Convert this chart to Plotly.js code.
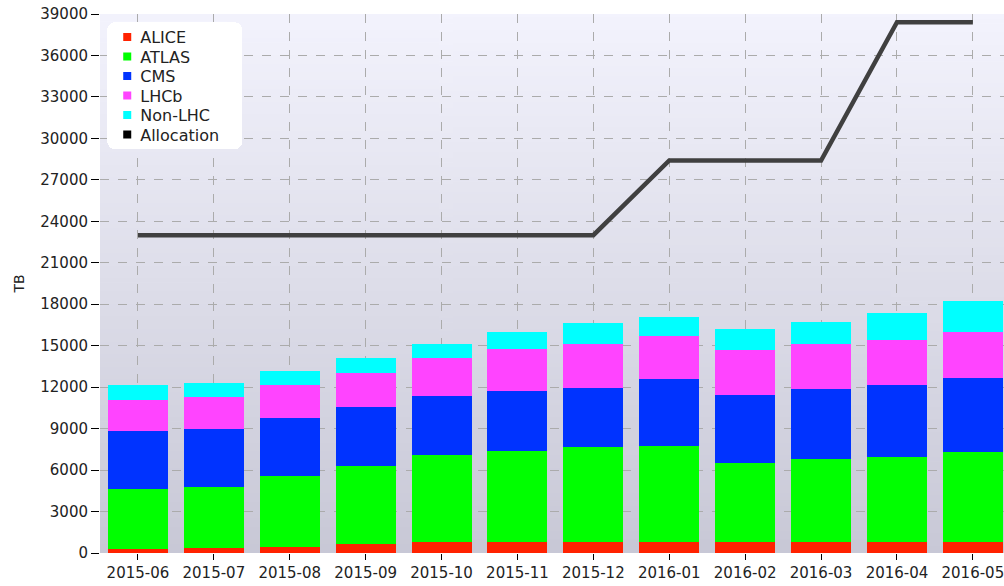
<!DOCTYPE html>
<html>
<head>
<meta charset="utf-8">
<script src="https://cdn.plot.ly/plotly-3.0.1.min.js"></script>
<style>html,body{margin:0;padding:0;background:#fff;}#chart{width:1004px;height:586px;}</style>
</head>
<body>
<div id="chart"></div>
<script>
const months = ["2015-06","2015-07","2015-08","2015-09","2015-10","2015-11","2015-12","2016-01","2016-02","2016-03","2016-04","2016-05"];
const alice  = [290, 340, 435, 650, 775, 775, 775, 775, 775, 775, 775, 775];
const atlas  = [4306, 4450, 5105, 5660, 6315, 6605, 6870, 6990, 5755, 6000, 6145, 6530];
const cms    = [4234, 4185, 4257, 4280, 4280, 4330, 4330, 4790, 4935, 5080, 5225, 5322];
const lhcb   = [2274, 2346, 2346, 2470, 2760, 3070, 3120, 3120, 3217, 3240, 3266, 3338];
const nonlhc = [1064, 992, 1017, 1040, 1015, 1185, 1550, 1400, 1500, 1645, 1984, 2274];
const allocation = [23000, 23000, 23000, 23000, 23000, 23000, 23000, 28400, 28400, 28400, 38400, 38400];

const seriesNames = ["ALICE","ATLAS","CMS","LHCb","Non-LHC"];
const seriesData = [alice, atlas, cms, lhcb, nonlhc];
const seriesColors = ["#ff2200","#00ff00","#0033ff","#ff44ff","#00ffff"];

// gradient background
const cv = document.createElement('canvas');
cv.width = 4; cv.height = 256;
const cx = cv.getContext('2d');
const g = cx.createLinearGradient(0,0,0,256);
g.addColorStop(0,'#f3f3fd');
g.addColorStop(1,'#c8c8d6');
cx.fillStyle = g; cx.fillRect(0,0,4,256);
const bgUrl = cv.toDataURL();

const traces = [];
seriesNames.forEach((n,i)=>{
  traces.push({type:'bar', name:n, x:months, y:seriesData[i],
    marker:{color:seriesColors[i], line:{width:0}}, showlegend:false, hoverinfo:'y+name'});
});
traces.push({type:'scatter', mode:'lines', name:'Allocation', x:months, y:allocation,
  line:{color:'#404040', width:4.5}, showlegend:false});
// legend entries (small squares)
const legendColors = seriesColors.concat(['#000000']);
seriesNames.concat(['Allocation']).forEach((n,i)=>{
  traces.push({type:'scatter', mode:'markers', name:n, x:[null], y:[null],
    marker:{symbol:'square', size:8, color:legendColors[i]}, showlegend:true, hoverinfo:'skip'});
});

const layout = {
  width:1004, height:586,
  margin:{l:100, r:0, t:14, b:33},
  paper_bgcolor:'#ffffff',
  plot_bgcolor:'rgba(0,0,0,0)',
  barmode:'stack',
  bargap:0.21,
  font:{family:'DejaVu Sans', size:15, color:'#222'},
  images:[{source:bgUrl, xref:'paper', yref:'paper', x:0, y:1, sizex:1, sizey:1,
    sizing:'stretch', xanchor:'left', yanchor:'top', layer:'below'}],
  xaxis:{type:'category', range:[-0.5, 11.41], showgrid:true, gridcolor:'#ababab',
    griddash:'dash', gridwidth:1, ticks:'outside', ticklen:6, tickcolor:'#000',
    showline:false, zeroline:false, tickfont:{size:15, color:'#222'}},
  yaxis:{range:[0, 39000], dtick:3000, tick0:0, showgrid:true, gridcolor:'#ababab',
    griddash:'dash', gridwidth:1, ticks:'outside', ticklen:8, tickcolor:'#000',
    showline:false, zeroline:false, tickformat:'d', tickfont:{size:15, color:'#222'},
    title:{text:'TB', font:{size:14, color:'#222'}, standoff:12}},
  legend:{x:0.008, y:0.985, xanchor:'left', yanchor:'top', bgcolor:'#ffffff',
    borderwidth:0, font:{size:16, color:'#222'}, traceorder:'normal', itemwidth:30,
    tracegroupgap:0},
  showlegend:true
};

Plotly.newPlot('chart', traces, layout, {staticPlot:true, displayModeBar:false}).then(gd => {
  // tighten legend rows to match reference spacing
  const legend = gd.querySelector('.legend');
  if (!legend) return;
  const items = legend.querySelectorAll('.traces');
  let y0 = null;
  const step = 19.5;
  items.forEach((el, i) => {
    const t = el.getAttribute('transform') || '';
    const m = /translate\(\s*([-\d.e]+)[\s,]+([-\d.e]+)\s*\)/.exec(t);
    if (!m) return;
    if (y0 === null) y0 = parseFloat(m[2]) - 2;
    el.setAttribute('transform', 'translate(' + m[1] + ',' + (y0 + i * step) + ')');
    const txt = el.querySelector('text.legendtext');
    if (txt) txt.setAttribute('x', parseFloat(txt.getAttribute('x') || 0) - 7);
  });
  const bg = legend.querySelector('rect.bg');
  if (bg && y0 !== null) {
    bg.setAttribute('height', 2 * y0 + (items.length - 1) * step);
    bg.setAttribute('width', 135);
    bg.setAttribute('rx', 8);
    bg.setAttribute('ry', 8);
  }
});
</script>
</body>
</html>
